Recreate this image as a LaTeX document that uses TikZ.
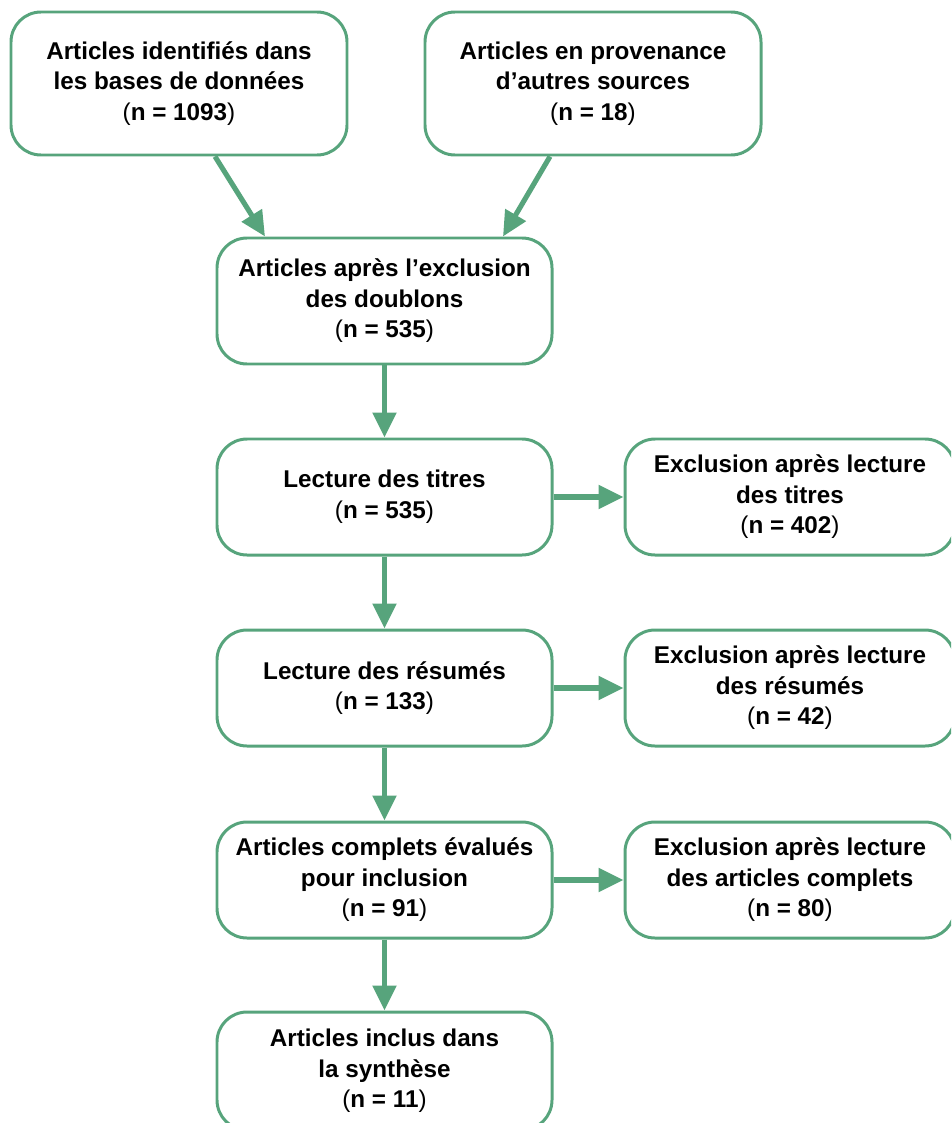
\documentclass[tikz,border=0pt]{standalone}
\usepackage{fontspec}
\setmainfont{Liberation Sans}
\usetikzlibrary{arrows.meta}
\newcommand{\nval}[1]{{\mdseries(}n = #1{\mdseries)}}
\begin{document}
\begin{tikzpicture}[
  box/.style={draw=cg, line width=1.7pt, rounded corners=0.6cm, align=center,
    minimum width=6.7cm, minimum height=2.32cm, inner sep=2pt,
    font=\bfseries\fontsize{13.8}{17.4}\selectfont},
  flow/.style={draw=cg, line width=2.9pt, -{Triangle[length=0.5cm,width=0.46cm]}}
]
\definecolor{cg}{RGB}{87,164,124}
\useasboundingbox (0,0) rectangle (19.02,-22.46);
\clip (0,0) rectangle (19.02,-22.46);
% sources
\node[box, minimum width=6.72cm, minimum height=2.86cm] (bases) at (3.58,-1.67) {Articles identifiés dans\\les bases de données\\\nval{1093}};
\node[box, minimum width=6.72cm, minimum height=2.86cm] (autres) at (11.86,-1.67) {Articles en provenance\\d’autres sources\\\nval{18}};
% main column
\node[box, minimum height=2.52cm] (doublons) at (7.69,-6.02) {Articles après l’exclusion\\des doublons\\\nval{535}};
\node[box] (titres) at (7.69,-9.94) {Lecture des titres\\\nval{535}};
\node[box] (resumes) at (7.69,-13.76) {Lecture des résumés\\\nval{133}};
\node[box] (complets) at (7.69,-17.6) {Articles complets évalués\\pour inclusion\\\nval{91}};
\node[box, minimum height=2.36cm] (inclus) at (7.69,-21.42) {Articles inclus dans\\la synthèse\\\nval{11}};
% exclusions
\node[box, minimum width=6.6cm] (exTitres) at (15.8,-9.94) {Exclusion après lecture\\des titres\\\nval{402}};
\node[box, minimum width=6.6cm] (exResumes) at (15.8,-13.76) {Exclusion après lecture\\des résumés\\\nval{42}};
\node[box, minimum width=6.6cm] (exComplets) at (15.8,-17.6) {Exclusion après lecture\\des articles complets\\\nval{80}};
% arrows
\draw[flow] ([xshift=0.72cm]bases.south) -- ([xshift=-2.39cm]doublons.north);
\draw[flow] ([xshift=-0.86cm]autres.south) -- ([xshift=2.37cm]doublons.north);
\draw[flow] (doublons) -- (titres);
\draw[flow] (titres) -- (resumes);
\draw[flow] (resumes) -- (complets);
\draw[flow] (complets) -- (inclus);
\draw[flow] (titres) -- (exTitres);
\draw[flow] (resumes) -- (exResumes);
\draw[flow] (complets) -- (exComplets);
\end{tikzpicture}
\end{document}
